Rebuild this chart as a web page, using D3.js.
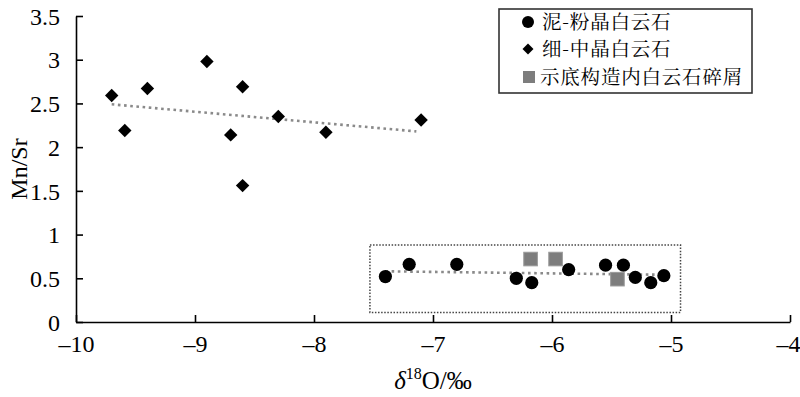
<!DOCTYPE html>
<html>
<head>
<meta charset="utf-8">
<script src="https://cdn.jsdelivr.net/npm/d3@7"></script>
<style>
  body { margin: 0; background: #fff; }
  svg { display: block; }
</style>
</head>
<body>
<svg id="chart" width="800" height="397"></svg>
<script>
// ---- data ----
const seriesNames = ["泥-粉晶白云石", "细-中晶白云石", "示底构造内白云石碎屑"];

const mudSiltX = [-7.40, -7.20, -6.80, -6.30, -6.17, -5.86, -5.55, -5.40, -5.30, -5.17, -5.06];
const mudSiltY = [0.52, 0.66, 0.66, 0.50, 0.45, 0.60, 0.65, 0.65, 0.51, 0.45, 0.53];

const fineMedX = [-9.70, -9.59, -9.40, -8.90, -8.60, -8.70, -8.60, -8.30, -7.90, -7.10];
const fineMedY = [2.59, 2.19, 2.67, 2.98, 2.69, 2.14, 1.56, 2.35, 2.17, 2.31];

const clastX = [-6.18, -5.97, -5.45];
const clastY = [0.72, 0.72, 0.49];

const trendUpperX = [-9.70, -7.14];
const trendUpperY = [2.49, 2.18];
const trendLowerX = [-7.40, -5.06];
const trendLowerY = [0.58, 0.54];

const boxX = [-7.53, -4.92];
const boxY = [0.11, 0.88];

const xTicks = [-10, -9, -8, -7, -6, -5, -4];
const xTickLabels = ["–10", "–9", "–8", "–7", "–6", "–5", "–4"];
const yTicks = [0, 0.5, 1, 1.5, 2, 2.5, 3, 3.5];
const yTickLabels = ["0", "0.5", "1", "1.5", "2", "2.5", "3", "3.5"];

// ---- layout ----
const svg = d3.select("#chart");
const x = d3.scaleLinear().domain([-10, -4]).range([76, 790]);
const y = d3.scaleLinear().domain([0, 3.5]).range([322, 16]);
const serif = "Liberation Serif";
const cjk = "Noto Serif CJK SC";

// axes
const xAxis = d3.axisBottom(x).tickValues(xTicks).tickSizeInner(-7).tickSizeOuter(0)
  .tickFormat((d, i) => xTickLabels[i]).tickPadding(13);
const gx = svg.append("g").attr("transform", `translate(0,${y(0)})`).call(xAxis);
const yAxis = d3.axisLeft(y).tickValues(yTicks).tickSizeInner(-7).tickSizeOuter(0)
  .tickFormat((d, i) => yTickLabels[i]).tickPadding(16);
const gy = svg.append("g").attr("transform", `translate(${x(-10)},0)`).call(yAxis);
[gx, gy].forEach(g => {
  g.attr("font-family", serif).attr("font-size", 24);
  g.select(".domain").attr("stroke", "#000").attr("stroke-width", 1.6);
  g.selectAll(".tick line").attr("stroke", "#000").attr("stroke-width", 1.6);
  g.selectAll(".tick text").attr("fill", "#000");
});
gx.selectAll(".tick text").attr("dy", "0.71em");
gx.selectAll(".tick text").filter(d => d === -4).attr("text-anchor", "end").attr("x", 10);
gy.selectAll(".tick text").attr("dy", "0.34em");

// axis titles
svg.append("text")
  .attr("transform", `translate(27,${y(1.75)}) rotate(-90)`)
  .attr("text-anchor", "middle")
  .attr("font-family", serif).attr("font-size", 24)
  .text("Mn/Sr");

const xt = svg.append("text")
  .attr("x", x(-7)).attr("y", 389)
  .attr("text-anchor", "middle")
  .attr("font-family", serif).attr("font-size", 25);
xt.append("tspan").attr("font-style", "italic").text("δ");
xt.append("tspan").attr("dy", -10).attr("font-size", 16).text("18");
xt.append("tspan").attr("dy", 10).text("O/‰");

// dotted annotation box
svg.append("rect")
  .attr("x", x(boxX[0])).attr("y", y(boxY[1]))
  .attr("width", x(boxX[1]) - x(boxX[0]))
  .attr("height", y(boxY[0]) - y(boxY[1]))
  .attr("fill", "none").attr("stroke", "#444").attr("stroke-width", 1.5)
  .attr("stroke-dasharray", "1.5,1.6");

// trend lines
const line = d3.line().x(d => x(d[0])).y(d => y(d[1]));
[[trendUpperX, trendUpperY], [trendLowerX, trendLowerY]].forEach(([tx, ty]) => {
  svg.append("path")
    .attr("d", line(tx.map((v, i) => [v, ty[i]])))
    .attr("fill", "none").attr("stroke", "#8a8a8a").attr("stroke-width", 2.6)
    .attr("stroke-dasharray", "2.6,3.6");
});

// markers
svg.append("g").selectAll("path")
  .data(fineMedX.map((v, i) => [v, fineMedY[i]]))
  .join("path")
  .attr("transform", d => `translate(${x(d[0])},${y(d[1])}) rotate(45)`)
  .attr("d", d3.symbol().type(d3.symbolSquare).size(90))
  .attr("fill", "#000");

svg.append("g").selectAll("circle")
  .data(mudSiltX.map((v, i) => [v, mudSiltY[i]]))
  .join("circle")
  .attr("cx", d => x(d[0])).attr("cy", d => y(d[1])).attr("r", 6.6)
  .attr("fill", "#000");

svg.append("g").selectAll("rect")
  .data(clastX.map((v, i) => [v, clastY[i]]))
  .join("rect")
  .attr("x", d => x(d[0]) - 6.8).attr("y", d => y(d[1]) - 6.8)
  .attr("width", 13.6).attr("height", 13.6)
  .attr("fill", "#7d7d7d").attr("stroke", "#9a9a9a").attr("stroke-width", 1);

// legend
const lg = svg.append("g");
lg.append("rect").attr("x", 499).attr("y", 9).attr("width", 253).attr("height", 84)
  .attr("fill", "#fff").attr("stroke", "#333").attr("stroke-width", 1.6);
const rowsY = [22, 49, 77];
lg.append("circle").attr("cx", 528).attr("cy", rowsY[0]).attr("r", 6).attr("fill", "#000");
lg.append("path").attr("transform", `translate(528,${rowsY[1]}) rotate(45)`)
  .attr("d", d3.symbol().type(d3.symbolSquare).size(60)).attr("fill", "#000");
lg.append("rect").attr("x", 523).attr("y", rowsY[2] - 6).attr("width", 12).attr("height", 12)
  .attr("fill", "#7d7d7d");
const textX = [542, 542, 540];
seriesNames.forEach((s, i) => {
  lg.append("text").attr("x", textX[i]).attr("y", rowsY[i]).attr("dy", "0.36em")
    .attr("font-family", cjk).attr("font-size", 19.5).attr("letter-spacing", 0.8).attr("fill", "#000")
    .text(s);
});
</script>
</body>
</html>
